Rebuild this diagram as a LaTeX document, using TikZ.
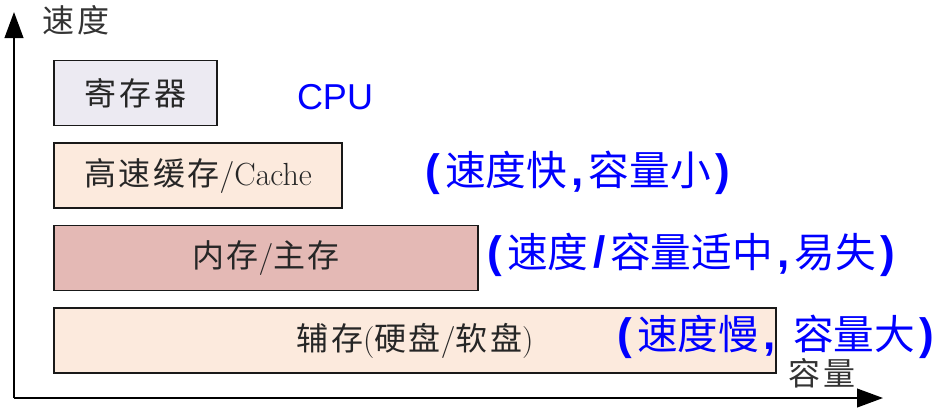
\documentclass[tikz,border=0pt]{standalone}
\usepackage{fontspec}
\newfontfamily\cjk{Noto Sans CJK SC}
\newfontfamily\cjkwide{Noto Sans CJK SC}[LetterSpace=8]
\newfontfamily\latsans{Liberation Sans}
\usetikzlibrary{arrows.meta}
\definecolor{regfill}{RGB}{236,234,242}
\definecolor{cachefill}{RGB}{252,234,221}
\definecolor{memfill}{RGB}{228,185,181}
\newcommand\boxfont{\cjkwide\fontsize{24}{24}\selectfont}
\newcommand\axisfont{\cjkwide\fontsize{24}{24}\selectfont}
\newcommand\notefont{\cjk\fontsize{30.5}{30.5}\selectfont}
\newcommand\bl[1]{{\latsans\bfseries\fontsize{33}{33}\selectfont\hspace{3.5pt}#1\hspace{3.5pt}}}
\tikzset{
  level/.style={draw=black!90, line width=1.1pt, inner sep=0pt, minimum height=49pt, font=\boxfont, text=black!85},
  note/.style={text=blue, font=\notefont, inner sep=0pt, anchor=west},
  axis/.style={line width=1.5pt, -{Triangle[length=19.5pt,width=14pt]}},
}
\begin{document}
\begin{tikzpicture}[x=0.75pt,y=-0.75pt]
  \useasboundingbox (0,0) rectangle (945,412);
  \coordinate (o) at (14,398);
  \coordinate (ytip) at (14,12);
  \coordinate (xtip) at (883,398);
  \draw[axis] (o) -- (ytip);
  \draw[axis] (o) -- (xtip);
  \node[font=\axisfont, text=black!80] (speed) at (76,20) {速度};
  \node[font=\axisfont, text=black!80] (size) at (822,373) {容量};
  \node[level, fill=regfill, minimum width=122.25pt] (reg) at (135.5,93) {寄存器};
  \node[level, fill=cachefill, minimum width=216pt] (cache) at (198,175.5) {高速缓存{\rmfamily/Cache}};
  \node[level, fill=memfill, minimum width=318pt] (mem) at (266,258) {内存{\rmfamily/}主存};
  \node[level, fill=cachefill, minimum width=541.5pt] (disk) at (415,340.5) {辅存{\rmfamily(}硬盘{\rmfamily/}软盘{\rmfamily)}};
  \node[note, anchor=center, font=\latsans\fontsize{27}{27}\selectfont] (cpu) at (335,97) {CPU};
  \node[note] (fast) at (421,173) {\bl{(}速度快\bl{,}容量小\bl{)}};
  \node[note] (mid) at (483,255) {\bl{(}速度\bl{/}容量适中\bl{,}易失\bl{)}};
  \node[note] (slow) at (613,337) {\bl{(}速度慢\bl{,}\hspace{0.3em}容量大\bl{)}};
\end{tikzpicture}
\end{document}
